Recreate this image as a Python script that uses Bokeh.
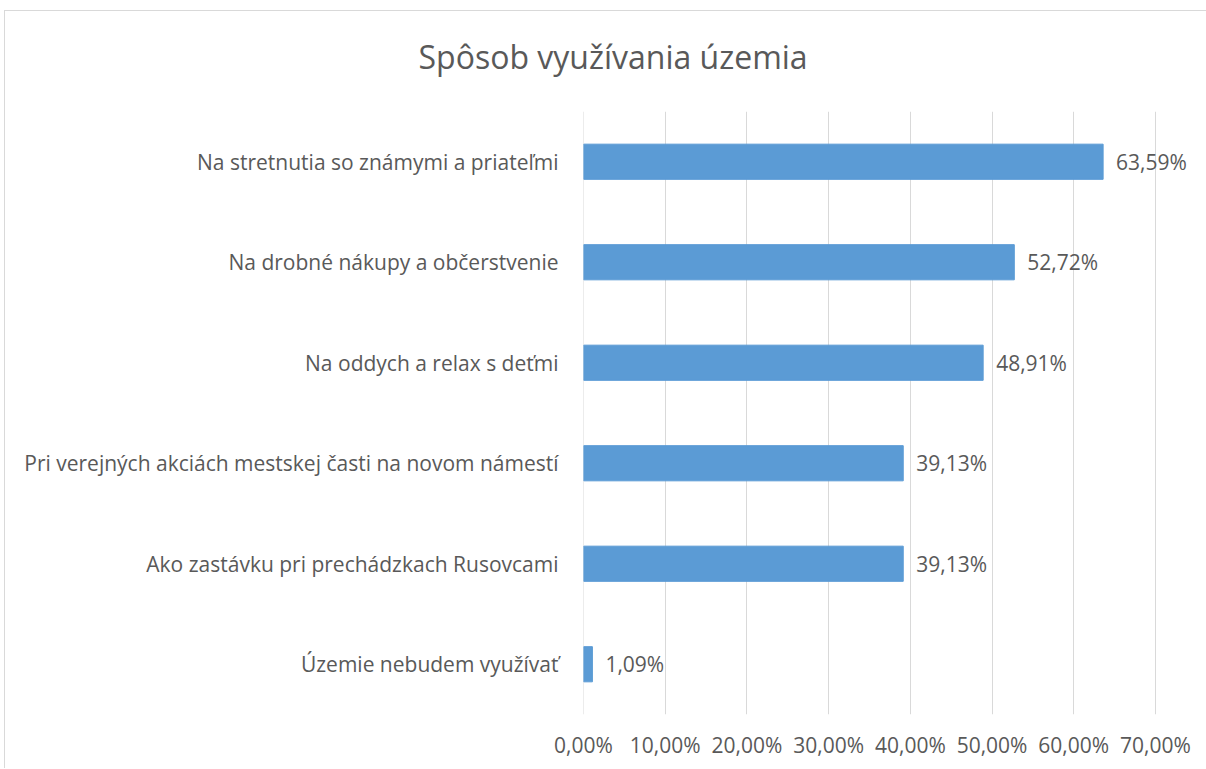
from bokeh.plotting import figure
from bokeh.models import ColumnDataSource, LabelSet, FactorRange, FixedTicker, Range1d, Span
from bokeh.core.properties import value
from bokeh.embed import file_html
from bokeh.resources import INLINE

title_text = "Spôsob využívania územia"
categories = [
    "Na stretnutia so známymi a priateľmi",
    "Na drobné nákupy a občerstvenie",
    "Na oddych a relax s deťmi",
    "Pri verejných akciách mestskej časti na novom námestí",
    "Ako zastávku pri prechádzkach Rusovcami",
    "Územie nebudem využívať",
]
values = [63.59, 52.72, 48.91, 39.13, 39.13, 1.09]
tick_values = [0, 10, 20, 30, 40, 50, 60, 70]
tick_labels = ["0,00%", "10,00%", "20,00%", "30,00%", "40,00%", "50,00%", "60,00%", "70,00%"]

TXT = "#595959"
GRID = "#d9d9d9"
FONT = "Open Sans"
FS = "21px"

labels = [f"{v:.2f}".replace(".", ",") + "%" for v in values]
src = ColumnDataSource(dict(cat=categories, val=values, lab=labels))

# frame: 0..70 spans 572 px; frame extends further right for the data labels
FRAME_W = 623
X_END = 70 * FRAME_W / 572.0

p = figure(
    width=1202, height=768,
    y_range=FactorRange(*categories[::-1], range_padding=0),
    x_range=Range1d(0, X_END),
    output_backend="svg", toolbar_location=None,
    min_border_left=579, min_border_right=0, min_border_top=110, min_border_bottom=54,
    title=title_text,
)
# chart-area border (top and left edges) drawn behind a transparent canvas
p.styles = {
    "margin-left": "4px",
    "background": ("linear-gradient(%s, %s) 0 10px / 100%% 1px no-repeat, "
                   "linear-gradient(%s, %s) 0 10px / 1px 100%% no-repeat, white")
                  % (GRID, GRID, GRID, GRID),
}
p.outline_line_color = None
p.background_fill_color = "white"
p.border_fill_color = None

p.title.text_font = FONT
p.title.text_font_size = "32px"
p.title.text_font_style = "normal"
p.title.text_color = TXT
p.title.align = "left"
p.title.offset = -165
p.title.vertical_align = "middle"
p.title.standoff = 66

p.add_layout(Span(location=tick_values[0], dimension="height",
                  line_color=GRID, line_width=1, level="underlay"))

p.hbar(y="cat", right="val", left=0, height=0.35, source=src,
       fill_color="#5b9bd5", line_color="#5b9bd5")

p.add_layout(LabelSet(x="val", y="cat", text="lab", source=src, x_offset=13,
                      text_align="left", text_baseline="middle",
                      text_font=value(FONT), text_font_size=value(FS), text_color=TXT))

p.xaxis.ticker = FixedTicker(ticks=tick_values)
p.xaxis.major_label_overrides = dict(zip(tick_values, tick_labels))
for ax in (p.xaxis, p.yaxis):
    ax.axis_line_color = None
    ax.major_tick_line_color = None
    ax.minor_tick_line_color = None
    ax.major_label_text_font = FONT
    ax.major_label_text_font_size = FS
    ax.major_label_text_color = TXT
p.xaxis.major_label_standoff = 10
p.yaxis.major_label_standoff = 19

p.xgrid.grid_line_color = GRID
p.xgrid.grid_line_width = 1
p.ygrid.grid_line_color = None

open("out.html", "w").write(file_html(p, INLINE))
